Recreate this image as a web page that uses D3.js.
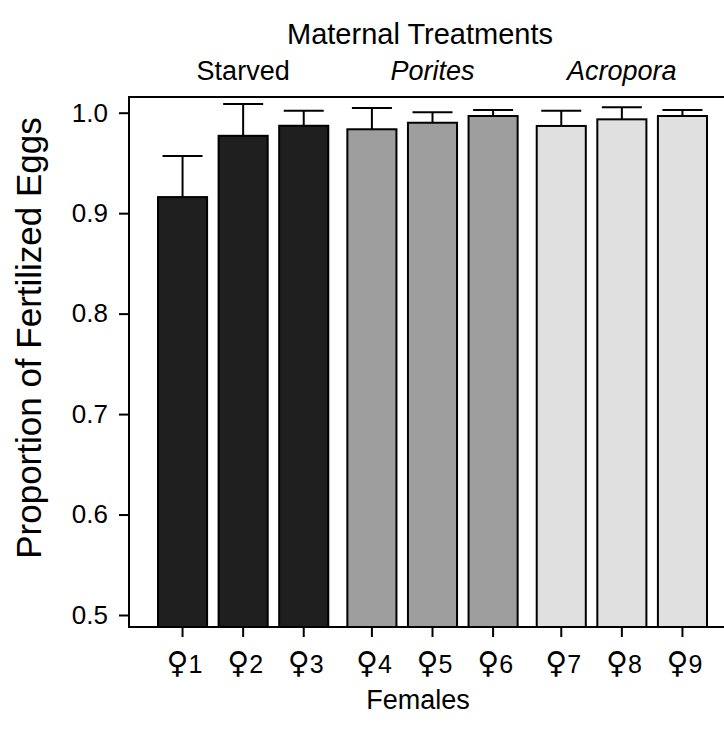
<!DOCTYPE html>
<html lang="en">
<head>
  <meta charset="UTF-8">
  <title>Maternal Treatments</title>
  <script src="https://cdn.jsdelivr.net/npm/d3@7"></script>
  <style>
    body { margin: 0; background: #fff; }
    text { font-family: Arial, "Liberation Sans", Helvetica, sans-serif; fill: #000; }
  </style>
</head>
<body>
  <svg width="724" height="736"></svg>
  <script>
    var treatments = ['Starved', 'Porites', 'Acropora'];
    var treatmentItalic = [false, true, true];
    var treatmentColors = ['#1f1f1f', '#9e9e9e', '#e0e0e0'];
    var femaleNumbers = ['1', '2', '3', '4', '5', '6', '7', '8', '9'];
    var femaleGroup = [0, 0, 0, 1, 1, 1, 2, 2, 2];
    var proportion = [0.916, 0.977, 0.987, 0.9835, 0.990, 0.9967, 0.9868, 0.9934, 0.9967];
    var upperError = [0.957, 1.0087, 1.002, 1.0047, 1.0004, 1.0027, 1.002, 1.0054, 1.0027];
    var yTicks = [0.5, 0.6, 0.7, 0.8, 0.9, 1.0];

    var svg = d3.select('svg');
    var plotLeft = 129, plotTop = 97, plotBottom = 627, plotRight = 740;

    var yScale = d3.scaleLinear().domain([0.5, 1.0]).range([615, 112.7]);

    var x0 = d3.scaleBand().domain(treatments)
      .range([152.25, 712.75]).paddingInner(0.04);
    var x1 = d3.scaleBand().domain([0, 1, 2])
      .range([0, x0.bandwidth()]).paddingInner(0.19).paddingOuter(0.095);

    function barX(i) {
      return x0(treatments[femaleGroup[i]]) + x1(i % 3);
    }

    // frame
    svg.append('rect')
      .attr('x', plotLeft).attr('y', plotTop)
      .attr('width', plotRight - plotLeft).attr('height', plotBottom - plotTop)
      .attr('fill', 'none').attr('stroke', '#000').attr('stroke-width', 2);

    // y axis
    var yAxis = svg.append('g')
      .attr('transform', 'translate(' + plotLeft + ',0)')
      .call(d3.axisLeft(yScale).tickValues(yTicks).tickFormat(d3.format('.1f')).tickSize(10).tickPadding(11));
    yAxis.select('.domain').remove();
    yAxis.selectAll('line').attr('stroke-width', 2);
    yAxis.selectAll('text').style('font-size', '26px');

    // error bars
    var errW = 40;
    var errs = svg.append('g');
    proportion.forEach(function(v, i) {
      var cx = barX(i) + x1.bandwidth() / 2;
      errs.append('line')
        .attr('x1', cx).attr('x2', cx)
        .attr('y1', yScale(v)).attr('y2', yScale(upperError[i]))
        .attr('stroke', '#000').attr('stroke-width', 2);
      errs.append('line')
        .attr('x1', cx - errW / 2).attr('x2', cx + errW / 2)
        .attr('y1', yScale(upperError[i])).attr('y2', yScale(upperError[i]))
        .attr('stroke', '#000').attr('stroke-width', 2);
    });

    // bars
    svg.append('g').selectAll('rect')
      .data(proportion)
      .enter().append('rect')
      .attr('x', function(d, i) { return barX(i); })
      .attr('width', x1.bandwidth())
      .attr('y', function(d) { return yScale(d); })
      .attr('height', function(d) { return plotBottom - yScale(d); })
      .attr('fill', function(d, i) { return treatmentColors[femaleGroup[i]]; })
      .attr('stroke', '#000').attr('stroke-width', 2);

    // x ticks + labels
    var xt = svg.append('g');
    femaleNumbers.forEach(function(n, i) {
      var cx = barX(i) + x1.bandwidth() / 2;
      xt.append('line')
        .attr('x1', cx).attr('x2', cx).attr('y1', plotBottom).attr('y2', plotBottom + 10)
        .attr('stroke', '#000').attr('stroke-width', 2);
      var t = xt.append('text')
        .attr('x', cx + 2).attr('y', 673)
        .attr('text-anchor', 'middle')
        .style('font-size', '25px');
      t.append('tspan').style('font-family', '"DejaVu Sans", sans-serif').style('font-size', '30px').text('♀');
      t.append('tspan').text(n);
    });

    // treatment labels
    treatments.forEach(function(t, g) {
      svg.append('text')
        .attr('x', x0(t) + x0.bandwidth() / 2)
        .attr('y', 80)
        .attr('text-anchor', 'middle')
        .style('font-size', '27px')
        .style('font-style', treatmentItalic[g] ? 'italic' : 'normal')
        .text(t);
    });

    svg.append('text')
      .attr('x', 420).attr('y', 44)
      .attr('text-anchor', 'middle')
      .style('font-size', '29px')
      .text('Maternal Treatments');

    svg.append('text')
      .attr('x', 418).attr('y', 709)
      .attr('text-anchor', 'middle')
      .style('font-size', '27px')
      .text('Females');

    svg.append('text')
      .attr('transform', 'translate(41,338) rotate(-90)')
      .attr('text-anchor', 'middle')
      .style('font-size', '35px')
      .text('Proportion of Fertilized Eggs');
  </script>
</body>
</html>
